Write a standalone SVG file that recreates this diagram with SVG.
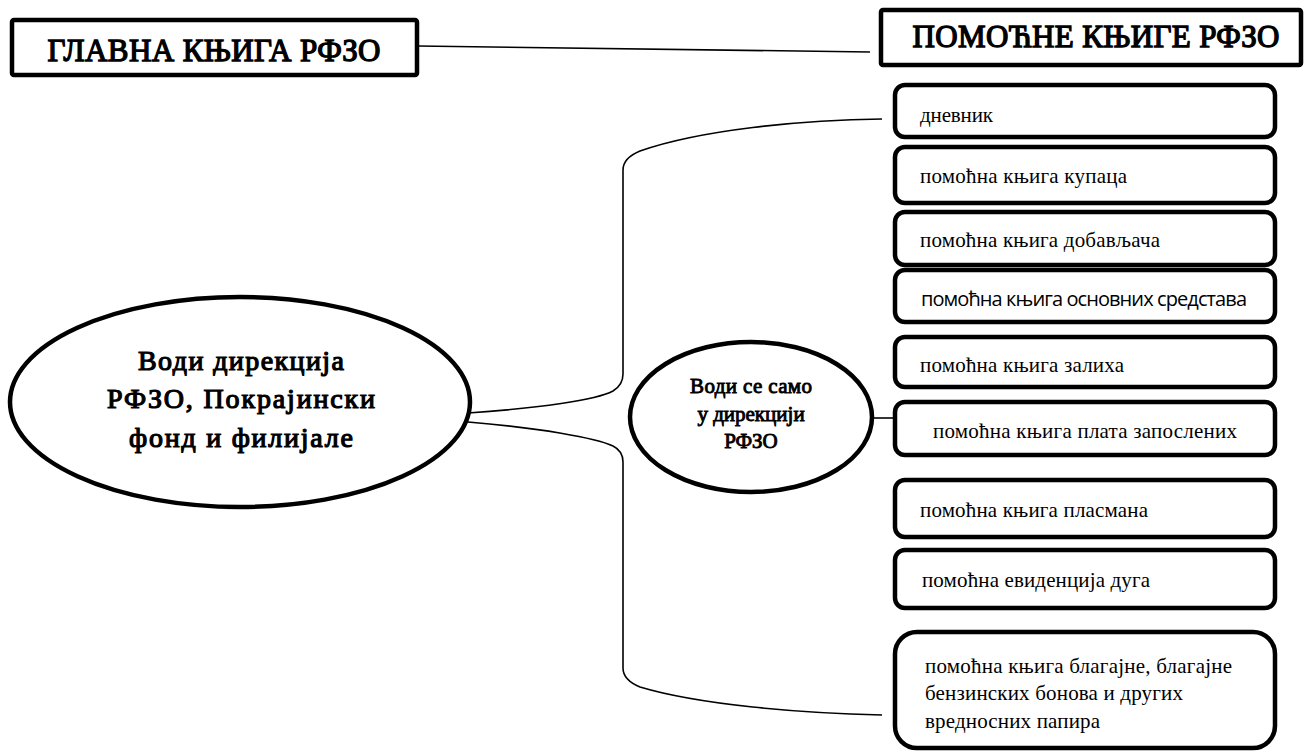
<svg xmlns="http://www.w3.org/2000/svg" width="1306" height="753" viewBox="0 0 1306 753">
<style>
.bg{fill:#fff}
.tbox{fill:#fff;stroke:#000;stroke-width:4.5}
.lbox{fill:#fff;stroke:#000;stroke-width:4.5}
.ell{fill:#fff;stroke:#000;stroke-width:4.5}
.con{fill:none;stroke:#000;stroke-width:1.6}
.title{font-family:"Liberation Serif","Times New Roman",serif;font-size:31px;fill:#000;stroke:#000;stroke-width:1.3}
.etxt{font-family:"Liberation Serif","Times New Roman",serif;font-size:28px;fill:#000;stroke:#000;stroke-width:1.2}
.stxt{font-family:"Liberation Serif","Times New Roman",serif;font-size:21px;fill:#000;stroke:#000;stroke-width:0.9}
.ltxt{font-family:"Liberation Serif","Times New Roman",serif;font-size:21px;fill:#000}
.sans{font-family:"Open Sans","Liberation Sans",sans-serif;font-size:20px;fill:#000}
</style>
<rect class="bg" x="0" y="0" width="1306" height="753"/>
<g id="connectors">
<path class="con" d="M418,46 L870,52"/>
<path class="con" d="M468,413 C540,408 596,400 613,391 Q623,385 623,374 V170 Q623,158 640,151 C700,130 800,120 882,119"/>
<path class="con" d="M468,422 C540,428 596,438 613,446 Q623,451 623,462 V668 Q623,680 640,687 C700,705 800,713 882,715"/>
<path class="con" d="M872,418 L895,418"/>
</g>
<g id="glavna">
<rect class="tbox" x="12" y="20" width="405" height="55" rx="2"/>
<text class="title" x="214" y="61" text-anchor="middle" textLength="333">ГЛАВНА КЊИГА РФЗО</text>
</g>
<g id="pomocne">
<rect class="tbox" x="881" y="10" width="420" height="55" rx="2"/>
<text class="title" x="1096" y="47" text-anchor="middle" textLength="367">ПОМОЋНЕ КЊИГЕ РФЗО</text>
</g>
<g id="vodi-direkcija">
<ellipse class="ell" cx="240" cy="402" rx="230" ry="105"/>
<text class="etxt" x="241" y="370" text-anchor="middle" textLength="206">Води дирекција</text>
<text class="etxt" x="241" y="408" text-anchor="middle" textLength="268">РФЗО, Покрајински</text>
<text class="etxt" x="241" y="447" text-anchor="middle" textLength="224">фонд и филијале</text>
</g>
<g id="vodi-samo">
<ellipse class="ell" cx="751" cy="417" rx="121" ry="75"/>
<text class="stxt" x="751" y="393" text-anchor="middle" textLength="122">Води се само</text>
<text class="stxt" x="751" y="421" text-anchor="middle">у дирекцији</text>
<text class="stxt" x="751" y="448" text-anchor="middle">РФЗО</text>
</g>
<g id="dnevnik">
<rect class="lbox" x="895" y="85" width="380" height="52" rx="10"/>
<text class="ltxt" x="920" y="122" textLength="73">дневник</text>
</g>
<g id="kupaca">
<rect class="lbox" x="895" y="147" width="380" height="56" rx="10"/>
<text class="ltxt" x="920" y="183" textLength="207">помоћна књига купаца</text>
</g>
<g id="dobavljaca">
<rect class="lbox" x="895" y="212" width="380" height="53" rx="10"/>
<text class="ltxt" x="920" y="247" textLength="240">помоћна књига добављача</text>
</g>
<g id="osnovnih">
<rect class="lbox" x="895" y="270" width="380" height="52" rx="10"/>
<text class="sans" x="921" y="306" textLength="326">помоћна књига основних средстава</text>
</g>
<g id="zaliha">
<rect class="lbox" x="895" y="337" width="380" height="50" rx="10"/>
<text class="ltxt" x="920" y="372" textLength="204">помоћна књига залиха</text>
</g>
<g id="plata">
<rect class="lbox" x="895" y="402" width="380" height="53" rx="10"/>
<text class="ltxt" x="933" y="438" textLength="304">помоћна књига плата запослених</text>
</g>
<g id="plasmana">
<rect class="lbox" x="895" y="480" width="380" height="57" rx="10"/>
<text class="ltxt" x="920" y="517" textLength="228">помоћна књига пласмана</text>
</g>
<g id="duga">
<rect class="lbox" x="895" y="550" width="380" height="58" rx="10"/>
<text class="ltxt" x="922" y="587" textLength="228">помоћна евиденција дуга</text>
</g>
<g id="blagajne">
<rect class="lbox" x="895" y="632" width="380" height="116" rx="22"/>
<text class="ltxt" x="925" y="673" textLength="307">помоћна књига благајне, благајне</text>
<text class="ltxt" x="925" y="700" textLength="258">бензинских бонова и других</text>
<text class="ltxt" x="925" y="728" textLength="175">вредносних папира</text>
</g>
</svg>
